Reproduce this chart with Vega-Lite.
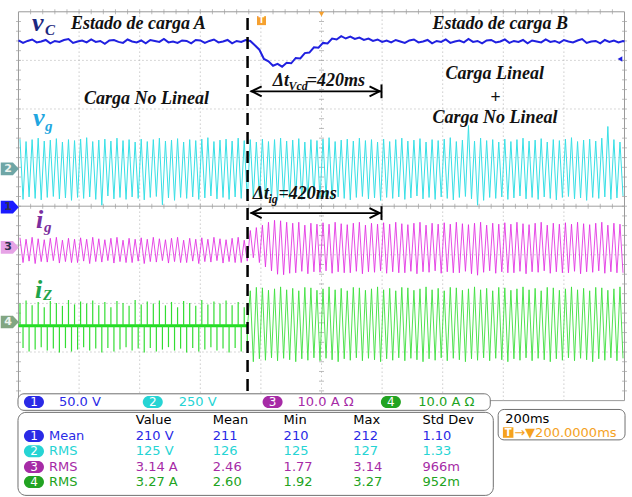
{
"$schema":"https://vega.github.io/schema/vega-lite/v6.json",
"width":632,"height":497,
"autosize":{"type":"fit","contains":"padding"},
"padding":0,
"background":"white",
"config":{"view":{"stroke":null},"axis":{"disable":true},"legend":{"disable":true}},
"datasets":{
"vc":[{"t":0,"v":3.41},{"t":15,"v":3.36},{"t":30,"v":3.40},{"t":45,"v":3.43},{"t":60,"v":3.37},{"t":75,"v":3.39},{"t":90,"v":3.42},{"t":105,"v":3.35},{"t":120,"v":3.40},{"t":135,"v":3.38},{"t":150,"v":3.42},{"t":165,"v":3.44},{"t":180,"v":3.36},{"t":195,"v":3.39},{"t":210,"v":3.41},{"t":225,"v":3.37},{"t":240,"v":3.43},{"t":255,"v":3.38},{"t":270,"v":3.40},{"t":285,"v":3.34},{"t":300,"v":3.41},{"t":315,"v":3.42},{"t":330,"v":3.38},{"t":345,"v":3.36},{"t":360,"v":3.43},{"t":375,"v":3.39},{"t":390,"v":3.37},{"t":405,"v":3.41},{"t":420,"v":3.35},{"t":435,"v":3.42},{"t":450,"v":3.40},{"t":465,"v":3.38},{"t":480,"v":3.44},{"t":495,"v":3.37},{"t":510,"v":3.39},{"t":525,"v":3.36},{"t":540,"v":3.41},{"t":555,"v":3.40},{"t":570,"v":3.35},{"t":585,"v":3.42},{"t":600,"v":3.41},{"t":615,"v":3.36},{"t":630,"v":3.40},{"t":645,"v":3.43},{"t":660,"v":3.37},{"t":675,"v":3.39},{"t":690,"v":3.42},{"t":705,"v":3.35},{"t":720,"v":3.40},{"t":735,"v":3.38},{"t":750,"v":3.42},{"t":765,"v":3.40},{"t":780,"v":3.31},{"t":795,"v":3.22},{"t":810,"v":3.03},{"t":825,"v":2.98},{"t":840,"v":2.89},{"t":855,"v":2.93},{"t":870,"v":2.87},{"t":885,"v":2.95},{"t":900,"v":2.94},{"t":915,"v":3.05},{"t":930,"v":3.04},{"t":945,"v":3.15},{"t":960,"v":3.16},{"t":975,"v":3.27},{"t":990,"v":3.26},{"t":1005,"v":3.36},{"t":1020,"v":3.35},{"t":1035,"v":3.45},{"t":1050,"v":3.43},{"t":1065,"v":3.50},{"t":1080,"v":3.45},{"t":1095,"v":3.49},{"t":1110,"v":3.44},{"t":1125,"v":3.47},{"t":1140,"v":3.42},{"t":1155,"v":3.45},{"t":1170,"v":3.40},{"t":1185,"v":3.43},{"t":1200,"v":3.38},{"t":1215,"v":3.41},{"t":1230,"v":3.37},{"t":1245,"v":3.42},{"t":1260,"v":3.39},{"t":1275,"v":3.36},{"t":1290,"v":3.41},{"t":1305,"v":3.43},{"t":1320,"v":3.37},{"t":1335,"v":3.39},{"t":1350,"v":3.42},{"t":1365,"v":3.35},{"t":1380,"v":3.40},{"t":1395,"v":3.38},{"t":1410,"v":3.43},{"t":1425,"v":3.36},{"t":1440,"v":3.39},{"t":1455,"v":3.41},{"t":1470,"v":3.37},{"t":1485,"v":3.44},{"t":1500,"v":3.38},{"t":1515,"v":3.40},{"t":1530,"v":3.35},{"t":1545,"v":3.41},{"t":1560,"v":3.42},{"t":1575,"v":3.37},{"t":1590,"v":3.39},{"t":1605,"v":3.43},{"t":1620,"v":3.36},{"t":1635,"v":3.40},{"t":1650,"v":3.38},{"t":1665,"v":3.42},{"t":1680,"v":3.35},{"t":1695,"v":3.41},{"t":1710,"v":3.39},{"t":1725,"v":3.37},{"t":1740,"v":3.43},{"t":1755,"v":3.38},{"t":1770,"v":3.40},{"t":1785,"v":3.36},{"t":1800,"v":3.42},{"t":1815,"v":3.39},{"t":1830,"v":3.37},{"t":1845,"v":3.41},{"t":1860,"v":3.44},{"t":1875,"v":3.36},{"t":1890,"v":3.39},{"t":1905,"v":3.40},{"t":1920,"v":3.35},{"t":1935,"v":3.42},{"t":1950,"v":3.38},{"t":1965,"v":3.41},{"t":1980,"v":3.37},{"t":1995,"v":3.40},{"t":2000,"v":3.39}],
"vg":[{"t":5,"v":1.38},{"t":15,"v":0.14},{"t":25,"v":1.33},{"t":35,"v":0.19},{"t":45,"v":1.37},{"t":55,"v":0.16},{"t":65,"v":1.40},{"t":75,"v":0.13},{"t":85,"v":1.34},{"t":95,"v":0.18},{"t":105,"v":1.36},{"t":115,"v":0.20},{"t":125,"v":1.39},{"t":135,"v":0.15},{"t":145,"v":1.32},{"t":155,"v":0.17},{"t":165,"v":1.37},{"t":175,"v":0.12},{"t":185,"v":1.35},{"t":195,"v":0.18},{"t":205,"v":1.38},{"t":215,"v":0.16},{"t":225,"v":1.41},{"t":235,"v":0.19},{"t":245,"v":1.33},{"t":255,"v":0.14},{"t":265,"v":1.36},{"t":275,"v":0.02},{"t":285,"v":1.38},{"t":295,"v":0.21},{"t":305,"v":1.34},{"t":315,"v":0.15},{"t":325,"v":1.40},{"t":335,"v":0.18},{"t":345,"v":1.35},{"t":355,"v":0.14},{"t":365,"v":1.37},{"t":375,"v":0.19},{"t":385,"v":1.32},{"t":395,"v":0.16},{"t":405,"v":1.38},{"t":415,"v":0.13},{"t":425,"v":1.33},{"t":435,"v":0.18},{"t":445,"v":1.37},{"t":455,"v":0.20},{"t":465,"v":1.40},{"t":475,"v":0.03},{"t":485,"v":1.34},{"t":495,"v":0.17},{"t":505,"v":1.36},{"t":515,"v":0.12},{"t":525,"v":1.39},{"t":535,"v":0.18},{"t":545,"v":1.32},{"t":555,"v":0.16},{"t":565,"v":1.37},{"t":575,"v":0.19},{"t":585,"v":1.35},{"t":595,"v":0.14},{"t":605,"v":1.38},{"t":615,"v":0.17},{"t":625,"v":1.41},{"t":635,"v":0.21},{"t":645,"v":1.33},{"t":655,"v":0.15},{"t":665,"v":1.36},{"t":675,"v":0.18},{"t":685,"v":1.38},{"t":695,"v":0.14},{"t":705,"v":1.34},{"t":715,"v":0.19},{"t":725,"v":1.40},{"t":735,"v":0.16},{"t":745,"v":1.35},{"t":755,"v":0.13},{"t":765,"v":1.37},{"t":775,"v":0.18},{"t":785,"v":1.32},{"t":795,"v":0.20},{"t":805,"v":1.38},{"t":815,"v":0.15},{"t":825,"v":1.33},{"t":835,"v":0.17},{"t":845,"v":1.37},{"t":855,"v":0.12},{"t":865,"v":1.40},{"t":875,"v":0.18},{"t":885,"v":1.34},{"t":895,"v":0.16},{"t":905,"v":1.36},{"t":915,"v":0.19},{"t":925,"v":1.39},{"t":935,"v":0.14},{"t":945,"v":1.32},{"t":955,"v":0.17},{"t":965,"v":1.37},{"t":975,"v":0.21},{"t":985,"v":1.35},{"t":995,"v":0.15},{"t":1005,"v":1.38},{"t":1015,"v":0.18},{"t":1025,"v":1.41},{"t":1035,"v":0.14},{"t":1045,"v":1.33},{"t":1055,"v":0.19},{"t":1065,"v":1.36},{"t":1075,"v":0.16},{"t":1085,"v":1.38},{"t":1095,"v":0.13},{"t":1105,"v":1.34},{"t":1115,"v":0.18},{"t":1125,"v":1.40},{"t":1135,"v":0.20},{"t":1145,"v":1.35},{"t":1155,"v":0.15},{"t":1165,"v":1.37},{"t":1175,"v":0.17},{"t":1185,"v":1.32},{"t":1195,"v":0.12},{"t":1205,"v":1.38},{"t":1215,"v":0.18},{"t":1225,"v":1.33},{"t":1235,"v":0.16},{"t":1245,"v":1.37},{"t":1255,"v":0.19},{"t":1265,"v":1.40},{"t":1275,"v":0.14},{"t":1285,"v":1.34},{"t":1295,"v":0.17},{"t":1305,"v":1.36},{"t":1315,"v":0.21},{"t":1325,"v":1.39},{"t":1335,"v":0.15},{"t":1345,"v":1.32},{"t":1355,"v":0.18},{"t":1365,"v":1.37},{"t":1375,"v":0.14},{"t":1385,"v":1.35},{"t":1395,"v":0.19},{"t":1405,"v":1.38},{"t":1415,"v":0.16},{"t":1425,"v":1.41},{"t":1435,"v":0.13},{"t":1445,"v":1.33},{"t":1455,"v":0.18},{"t":1465,"v":1.36},{"t":1475,"v":0.20},{"t":1485,"v":1.66},{"t":1495,"v":0.15},{"t":1505,"v":1.34},{"t":1515,"v":0.02},{"t":1525,"v":1.40},{"t":1535,"v":0.12},{"t":1545,"v":1.35},{"t":1555,"v":0.18},{"t":1565,"v":1.37},{"t":1575,"v":0.16},{"t":1585,"v":1.32},{"t":1595,"v":0.19},{"t":1605,"v":1.38},{"t":1615,"v":0.14},{"t":1625,"v":1.33},{"t":1635,"v":0.17},{"t":1645,"v":1.37},{"t":1655,"v":0.21},{"t":1665,"v":1.40},{"t":1675,"v":0.15},{"t":1685,"v":1.34},{"t":1695,"v":0.18},{"t":1705,"v":1.36},{"t":1715,"v":0.14},{"t":1725,"v":1.39},{"t":1735,"v":0.19},{"t":1745,"v":1.32},{"t":1755,"v":0.16},{"t":1765,"v":1.37},{"t":1775,"v":0.13},{"t":1785,"v":1.35},{"t":1795,"v":0.18},{"t":1805,"v":1.38},{"t":1815,"v":0.20},{"t":1825,"v":1.41},{"t":1835,"v":0.15},{"t":1845,"v":1.33},{"t":1855,"v":0.17},{"t":1865,"v":1.36},{"t":1875,"v":0.12},{"t":1885,"v":1.38},{"t":1895,"v":0.18},{"t":1905,"v":1.34},{"t":1915,"v":0.16},{"t":1925,"v":1.40},{"t":1935,"v":0.19},{"t":1945,"v":1.64},{"t":1955,"v":0.14},{"t":1965,"v":1.37},{"t":1975,"v":0.17},{"t":1985,"v":1.32},{"t":1995,"v":0.21}],
"ig":[{"t":5,"v":-0.65},{"t":15,"v":-1.16},{"t":25,"v":-0.68},{"t":35,"v":-1.13},{"t":45,"v":-0.64},{"t":55,"v":-1.18},{"t":65,"v":-0.67},{"t":75,"v":-1.14},{"t":85,"v":-0.69},{"t":95,"v":-1.15},{"t":105,"v":-0.66},{"t":115,"v":-1.12},{"t":125,"v":-0.64},{"t":135,"v":-1.17},{"t":145,"v":-0.70},{"t":155,"v":-1.14},{"t":165,"v":-0.66},{"t":175,"v":-1.16},{"t":185,"v":-0.68},{"t":195,"v":-1.16},{"t":205,"v":-0.65},{"t":215,"v":-1.13},{"t":225,"v":-0.68},{"t":235,"v":-1.18},{"t":245,"v":-0.64},{"t":255,"v":-1.14},{"t":265,"v":-0.67},{"t":275,"v":-1.15},{"t":285,"v":-0.69},{"t":295,"v":-1.12},{"t":305,"v":-0.66},{"t":315,"v":-1.17},{"t":325,"v":-0.64},{"t":335,"v":-1.14},{"t":345,"v":-0.70},{"t":355,"v":-1.16},{"t":365,"v":-0.66},{"t":375,"v":-1.16},{"t":385,"v":-0.68},{"t":395,"v":-1.13},{"t":405,"v":-0.65},{"t":415,"v":-1.18},{"t":425,"v":-0.68},{"t":435,"v":-1.14},{"t":445,"v":-0.64},{"t":455,"v":-1.15},{"t":465,"v":-0.67},{"t":475,"v":-1.12},{"t":485,"v":-0.69},{"t":495,"v":-1.17},{"t":505,"v":-0.66},{"t":515,"v":-1.14},{"t":525,"v":-0.64},{"t":535,"v":-1.16},{"t":545,"v":-0.70},{"t":555,"v":-1.16},{"t":565,"v":-0.66},{"t":575,"v":-1.13},{"t":585,"v":-0.68},{"t":595,"v":-1.18},{"t":605,"v":-0.65},{"t":615,"v":-1.14},{"t":625,"v":-0.68},{"t":635,"v":-1.15},{"t":645,"v":-0.64},{"t":655,"v":-1.12},{"t":665,"v":-0.67},{"t":675,"v":-1.17},{"t":685,"v":-0.69},{"t":695,"v":-1.14},{"t":705,"v":-0.66},{"t":715,"v":-1.16},{"t":725,"v":-0.64},{"t":735,"v":-1.16},{"t":745,"v":-0.70},{"t":755,"v":-1.13},{"t":765,"v":-0.50},{"t":775,"v":-1.06},{"t":785,"v":-0.44},{"t":795,"v":-1.16},{"t":805,"v":-0.39},{"t":815,"v":-1.25},{"t":825,"v":-0.33},{"t":835,"v":-1.33},{"t":845,"v":-0.29},{"t":855,"v":-1.40},{"t":865,"v":-0.30},{"t":875,"v":-1.41},{"t":885,"v":-0.33},{"t":895,"v":-1.38},{"t":905,"v":-0.35},{"t":915,"v":-1.37},{"t":925,"v":-0.33},{"t":935,"v":-1.34},{"t":945,"v":-0.39},{"t":955,"v":-1.39},{"t":965,"v":-0.35},{"t":975,"v":-1.35},{"t":985,"v":-0.37},{"t":995,"v":-1.36},{"t":1005,"v":-0.34},{"t":1015,"v":-1.33},{"t":1025,"v":-0.37},{"t":1035,"v":-1.38},{"t":1045,"v":-0.33},{"t":1055,"v":-1.35},{"t":1065,"v":-0.36},{"t":1075,"v":-1.37},{"t":1085,"v":-0.38},{"t":1095,"v":-1.37},{"t":1105,"v":-0.35},{"t":1115,"v":-1.34},{"t":1125,"v":-0.33},{"t":1135,"v":-1.39},{"t":1145,"v":-0.39},{"t":1155,"v":-1.35},{"t":1165,"v":-0.35},{"t":1175,"v":-1.36},{"t":1185,"v":-0.37},{"t":1195,"v":-1.33},{"t":1205,"v":-0.34},{"t":1215,"v":-1.38},{"t":1225,"v":-0.37},{"t":1235,"v":-1.35},{"t":1245,"v":-0.33},{"t":1255,"v":-1.37},{"t":1265,"v":-0.36},{"t":1275,"v":-1.37},{"t":1285,"v":-0.38},{"t":1295,"v":-1.34},{"t":1305,"v":-0.35},{"t":1315,"v":-1.39},{"t":1325,"v":-0.33},{"t":1335,"v":-1.35},{"t":1345,"v":-0.39},{"t":1355,"v":-1.36},{"t":1365,"v":-0.35},{"t":1375,"v":-1.33},{"t":1385,"v":-0.37},{"t":1395,"v":-1.38},{"t":1405,"v":-0.34},{"t":1415,"v":-1.35},{"t":1425,"v":-0.37},{"t":1435,"v":-1.37},{"t":1445,"v":-0.33},{"t":1455,"v":-1.37},{"t":1465,"v":-0.36},{"t":1475,"v":-1.34},{"t":1485,"v":-0.38},{"t":1495,"v":-1.39},{"t":1505,"v":-0.35},{"t":1515,"v":-1.42},{"t":1525,"v":-0.33},{"t":1535,"v":-1.36},{"t":1545,"v":-0.39},{"t":1555,"v":-1.33},{"t":1565,"v":-0.35},{"t":1575,"v":-1.38},{"t":1585,"v":-0.37},{"t":1595,"v":-1.35},{"t":1605,"v":-0.34},{"t":1615,"v":-1.37},{"t":1625,"v":-0.37},{"t":1635,"v":-1.37},{"t":1645,"v":-0.33},{"t":1655,"v":-1.34},{"t":1665,"v":-0.36},{"t":1675,"v":-1.39},{"t":1685,"v":-0.38},{"t":1695,"v":-1.35},{"t":1705,"v":-0.35},{"t":1715,"v":-1.36},{"t":1725,"v":-0.33},{"t":1735,"v":-1.33},{"t":1745,"v":-0.39},{"t":1755,"v":-1.38},{"t":1765,"v":-0.35},{"t":1775,"v":-1.35},{"t":1785,"v":-0.37},{"t":1795,"v":-1.37},{"t":1805,"v":-0.34},{"t":1815,"v":-1.37},{"t":1825,"v":-0.37},{"t":1835,"v":-1.34},{"t":1845,"v":-0.33},{"t":1855,"v":-1.39},{"t":1865,"v":-0.36},{"t":1875,"v":-1.35},{"t":1885,"v":-0.38},{"t":1895,"v":-1.36},{"t":1905,"v":-0.35},{"t":1915,"v":-1.33},{"t":1925,"v":-0.33},{"t":1935,"v":-1.38},{"t":1945,"v":-0.39},{"t":1955,"v":-1.35},{"t":1965,"v":-0.35},{"t":1975,"v":-1.37},{"t":1985,"v":-0.37},{"t":1995,"v":-1.37}],
"izs":[{"t":5,"v":-2.00},{"t":15,"v":-2.92},{"t":25,"v":-1.94},{"t":35,"v":-2.99},{"t":45,"v":-2.04},{"t":55,"v":-2.95},{"t":65,"v":-1.97},{"t":75,"v":-2.90},{"t":85,"v":-2.08},{"t":95,"v":-2.97},{"t":105,"v":-1.95},{"t":115,"v":-2.93},{"t":125,"v":-1.99},{"t":135,"v":-3.01},{"t":145,"v":-2.05},{"t":155,"v":-2.92},{"t":165,"v":-1.93},{"t":175,"v":-2.99},{"t":185,"v":-2.02},{"t":195,"v":-2.95},{"t":205,"v":-1.96},{"t":215,"v":-2.90},{"t":225,"v":-2.00},{"t":235,"v":-2.97},{"t":245,"v":-1.94},{"t":255,"v":-2.93},{"t":265,"v":-2.04},{"t":275,"v":-3.01},{"t":285,"v":-1.97},{"t":295,"v":-2.92},{"t":305,"v":-2.08},{"t":315,"v":-2.99},{"t":325,"v":-1.95},{"t":335,"v":-2.95},{"t":345,"v":-1.99},{"t":355,"v":-2.90},{"t":365,"v":-2.05},{"t":375,"v":-2.97},{"t":385,"v":-1.93},{"t":395,"v":-2.93},{"t":405,"v":-2.02},{"t":415,"v":-3.01},{"t":425,"v":-1.96},{"t":435,"v":-2.92},{"t":445,"v":-2.00},{"t":455,"v":-2.99},{"t":465,"v":-1.94},{"t":475,"v":-2.95},{"t":485,"v":-2.04},{"t":495,"v":-2.90},{"t":505,"v":-1.97},{"t":515,"v":-2.97},{"t":525,"v":-2.08},{"t":535,"v":-2.93},{"t":545,"v":-1.95},{"t":555,"v":-3.01},{"t":565,"v":-1.99},{"t":575,"v":-2.92},{"t":585,"v":-2.05},{"t":595,"v":-2.99},{"t":605,"v":-1.93},{"t":615,"v":-2.95},{"t":625,"v":-2.02},{"t":635,"v":-2.90},{"t":645,"v":-1.96},{"t":655,"v":-2.97},{"t":665,"v":-2.00},{"t":675,"v":-2.93},{"t":685,"v":-1.94},{"t":695,"v":-3.01},{"t":705,"v":-2.04},{"t":715,"v":-2.92},{"t":725,"v":-1.97},{"t":735,"v":-2.99},{"t":745,"v":-2.08},{"t":755,"v":-2.95}],
"iza":[{"t":756,"v":-2.46},{"t":765,"v":-1.74},{"t":775,"v":-3.20},{"t":785,"v":-1.67},{"t":795,"v":-3.14},{"t":805,"v":-1.68},{"t":815,"v":-3.17},{"t":825,"v":-1.73},{"t":835,"v":-3.12},{"t":845,"v":-1.70},{"t":855,"v":-3.18},{"t":865,"v":-1.66},{"t":875,"v":-3.13},{"t":885,"v":-1.72},{"t":895,"v":-3.16},{"t":905,"v":-1.69},{"t":915,"v":-3.20},{"t":925,"v":-1.74},{"t":935,"v":-3.14},{"t":945,"v":-1.67},{"t":955,"v":-3.17},{"t":965,"v":-1.68},{"t":975,"v":-3.12},{"t":985,"v":-1.73},{"t":995,"v":-3.18},{"t":1005,"v":-1.70},{"t":1015,"v":-3.13},{"t":1025,"v":-1.66},{"t":1035,"v":-3.16},{"t":1045,"v":-1.72},{"t":1055,"v":-3.20},{"t":1065,"v":-1.69},{"t":1075,"v":-3.14},{"t":1085,"v":-1.74},{"t":1095,"v":-3.17},{"t":1105,"v":-1.67},{"t":1115,"v":-3.12},{"t":1125,"v":-1.68},{"t":1135,"v":-3.18},{"t":1145,"v":-1.73},{"t":1155,"v":-3.13},{"t":1165,"v":-1.70},{"t":1175,"v":-3.16},{"t":1185,"v":-1.66},{"t":1195,"v":-3.20},{"t":1205,"v":-1.72},{"t":1215,"v":-3.14},{"t":1225,"v":-1.69},{"t":1235,"v":-3.17},{"t":1245,"v":-1.74},{"t":1255,"v":-3.12},{"t":1265,"v":-1.67},{"t":1275,"v":-3.18},{"t":1285,"v":-1.68},{"t":1295,"v":-3.13},{"t":1305,"v":-1.73},{"t":1315,"v":-3.16},{"t":1325,"v":-1.70},{"t":1335,"v":-3.20},{"t":1345,"v":-1.66},{"t":1355,"v":-3.14},{"t":1365,"v":-1.72},{"t":1375,"v":-3.17},{"t":1385,"v":-1.69},{"t":1395,"v":-3.12},{"t":1405,"v":-1.74},{"t":1415,"v":-3.18},{"t":1425,"v":-1.67},{"t":1435,"v":-3.13},{"t":1445,"v":-1.68},{"t":1455,"v":-3.16},{"t":1465,"v":-1.73},{"t":1475,"v":-3.20},{"t":1485,"v":-1.70},{"t":1495,"v":-3.14},{"t":1505,"v":-1.66},{"t":1515,"v":-3.17},{"t":1525,"v":-1.72},{"t":1535,"v":-3.12},{"t":1545,"v":-1.69},{"t":1555,"v":-3.18},{"t":1565,"v":-1.74},{"t":1575,"v":-3.13},{"t":1585,"v":-1.67},{"t":1595,"v":-3.16},{"t":1605,"v":-1.68},{"t":1615,"v":-3.20},{"t":1625,"v":-1.73},{"t":1635,"v":-3.14},{"t":1645,"v":-1.70},{"t":1655,"v":-3.17},{"t":1665,"v":-1.66},{"t":1675,"v":-3.12},{"t":1685,"v":-1.72},{"t":1695,"v":-3.18},{"t":1705,"v":-1.69},{"t":1715,"v":-3.13},{"t":1725,"v":-1.74},{"t":1735,"v":-3.16},{"t":1745,"v":-1.67},{"t":1755,"v":-3.20},{"t":1765,"v":-1.68},{"t":1775,"v":-3.14},{"t":1785,"v":-1.73},{"t":1795,"v":-3.17},{"t":1805,"v":-1.70},{"t":1815,"v":-3.12},{"t":1825,"v":-1.66},{"t":1835,"v":-3.18},{"t":1845,"v":-1.72},{"t":1855,"v":-3.13},{"t":1865,"v":-1.69},{"t":1875,"v":-3.16},{"t":1885,"v":-1.74},{"t":1895,"v":-3.20},{"t":1905,"v":-1.67},{"t":1915,"v":-3.14},{"t":1925,"v":-1.68},{"t":1935,"v":-3.17},{"t":1945,"v":-1.73},{"t":1955,"v":-3.12},{"t":1965,"v":-1.70},{"t":1975,"v":-3.18},{"t":1985,"v":-1.66},{"t":1995,"v":-3.13}],
"xs":[{"p":40},{"p":80},{"p":120},{"p":160},{"p":200},{"p":240},{"p":280},{"p":320},{"p":360},{"p":400},{"p":440},{"p":480},{"p":520},{"p":560},{"p":600},{"p":640},{"p":680},{"p":720},{"p":760},{"p":800},{"p":840},{"p":880},{"p":920},{"p":960},{"p":1000},{"p":1040},{"p":1080},{"p":1120},{"p":1160},{"p":1200},{"p":1240},{"p":1280},{"p":1320},{"p":1360},{"p":1400},{"p":1440},{"p":1480},{"p":1520},{"p":1560},{"p":1600},{"p":1640},{"p":1680},{"p":1720},{"p":1760},{"p":1800},{"p":1840},{"p":1880},{"p":1920},{"p":1960}],
"ys":[{"p":-3.8},{"p":-3.6},{"p":-3.4},{"p":-3.2},{"p":-3.0},{"p":-2.8},{"p":-2.6},{"p":-2.4},{"p":-2.2},{"p":-2.0},{"p":-1.8},{"p":-1.6},{"p":-1.4},{"p":-1.2},{"p":-1.0},{"p":-0.8},{"p":-0.6},{"p":-0.4},{"p":-0.2},{"p":0},{"p":0.2},{"p":0.4},{"p":0.6},{"p":0.8},{"p":1.0},{"p":1.2},{"p":1.4},{"p":1.6},{"p":1.8},{"p":2.0},{"p":2.2},{"p":2.4},{"p":2.6},{"p":2.8},{"p":3.0},{"p":3.2},{"p":3.4},{"p":3.6},{"p":3.8}],
"badges":[{"ch":"2","d":0.768},{"ch":"1","d":-0.02},{"ch":"3","d":-0.848},{"ch":"4","d":-2.384}],
"pills":[{"ch":"1","t":51.1,"d":-4.03,"n":"1"},{"ch":"2","t":443.2,"d":-4.03,"n":"2"},{"ch":"3","t":838.6,"d":-4.03,"n":"3"},{"ch":"4","t":1229,"d":-4.03,"n":"4"},{"ch":"1","t":51.1,"d":-4.727,"n":"1"},{"ch":"2","t":51.1,"d":-5.04,"n":"2"},{"ch":"3","t":51.1,"d":-5.364,"n":"3"},{"ch":"4","t":51.1,"d":-5.677,"n":"4"}],
"cells":[{"ch":"1","t":133.4,"d":-4.03,"s":"50.0 V"},{"ch":"2","t":528.8,"d":-4.03,"s":"250 V"},{"ch":"3","t":921,"d":-4.03,"s":"10.0 A Ω"},{"ch":"4","t":1319.6,"d":-4.03,"s":"10.0 A Ω"},
{"ch":"k","t":387,"d":-4.404,"s":"Value"},{"ch":"k","t":641,"d":-4.404,"s":"Mean"},{"ch":"k","t":875,"d":-4.404,"s":"Min"},{"ch":"k","t":1105,"d":-4.404,"s":"Max"},{"ch":"k","t":1333,"d":-4.404,"s":"Std Dev"},
{"ch":"1","t":100.5,"d":-4.727,"s":"Mean"},{"ch":"1","t":387,"d":-4.727,"s":"210 V"},{"ch":"1","t":641,"d":-4.727,"s":"211"},{"ch":"1","t":875,"d":-4.727,"s":"210"},{"ch":"1","t":1105,"d":-4.727,"s":"212"},{"ch":"1","t":1333,"d":-4.727,"s":"1.10"},
{"ch":"2","t":100.5,"d":-5.04,"s":"RMS"},{"ch":"2","t":387,"d":-5.04,"s":"125 V"},{"ch":"2","t":641,"d":-5.04,"s":"126"},{"ch":"2","t":875,"d":-5.04,"s":"125"},{"ch":"2","t":1105,"d":-5.04,"s":"127"},{"ch":"2","t":1333,"d":-5.04,"s":"1.33"},
{"ch":"3","t":100.5,"d":-5.364,"s":"RMS"},{"ch":"3","t":387,"d":-5.364,"s":"3.14 A"},{"ch":"3","t":641,"d":-5.364,"s":"2.46"},{"ch":"3","t":875,"d":-5.364,"s":"1.77"},{"ch":"3","t":1105,"d":-5.364,"s":"3.14"},{"ch":"3","t":1333,"d":-5.364,"s":"966m"},
{"ch":"4","t":100.5,"d":-5.677,"s":"RMS"},{"ch":"4","t":387,"d":-5.677,"s":"3.27 A"},{"ch":"4","t":641,"d":-5.677,"s":"2.60"},{"ch":"4","t":875,"d":-5.677,"s":"1.92"},{"ch":"4","t":1105,"d":-5.677,"s":"3.27"},{"ch":"4","t":1333,"d":-5.677,"s":"952m"},
{"ch":"k","t":1606,"d":-4.374,"s":"200ms"},{"ch":"o","t":1636,"d":-4.657,"s":"→▼200.0000ms"}]
},
"layer":[
{"data":{"values":[{}]},"mark":{"type":"rect","fill":"transparent","stroke":"#9a9a9a","strokeWidth":1},
 "encoding":{"x":{"datum":0,"type":"quantitative","scale":{"domain":[-57.7,2024.7],"nice":false,"zero":false},"axis":null},
  "x2":{"datum":2000},
  "y":{"datum":-4,"type":"quantitative","scale":{"domain":[-5.798,4.2424],"nice":false,"zero":false},"axis":null},
  "y2":{"datum":4}}},
{"data":{"values":[{"p":200},{"p":400},{"p":600},{"p":800},{"p":1000},{"p":1200},{"p":1400},{"p":1600},{"p":1800}]},
 "mark":{"type":"rule","color":"#b0b0b0","strokeDash":[1,3],"strokeWidth":1},
 "encoding":{"x":{"field":"p","type":"quantitative"},"y":{"datum":-4,"type":"quantitative"},"y2":{"datum":4}}},
{"data":{"values":[{"p":-3},{"p":-2},{"p":-1},{"p":1},{"p":2},{"p":3}]},
 "mark":{"type":"rule","color":"#b0b0b0","strokeDash":[1,3],"strokeWidth":1},
 "encoding":{"y":{"field":"p","type":"quantitative"},"x":{"datum":0,"type":"quantitative"},"x2":{"datum":2000}}},
{"data":{"values":[{}]},"mark":{"type":"rule","color":"#a0a0a0","strokeWidth":1},
 "encoding":{"y":{"datum":0,"type":"quantitative"},"x":{"datum":0,"type":"quantitative"},"x2":{"datum":2000}}},
{"data":{"name":"xs"},"mark":{"type":"tick","orient":"vertical","size":5,"thickness":1,"color":"#a0a0a0"},
 "encoding":{"x":{"field":"p","type":"quantitative"},"y":{"datum":0,"type":"quantitative"}}},
{"data":{"name":"xs"},"mark":{"type":"tick","orient":"vertical","size":5,"thickness":1,"color":"#a0a0a0"},
 "encoding":{"x":{"field":"p","type":"quantitative"},"y":{"datum":4,"type":"quantitative"}}},
{"data":{"name":"ys"},"mark":{"type":"tick","orient":"horizontal","size":5,"thickness":1,"color":"#a0a0a0"},
 "encoding":{"y":{"field":"p","type":"quantitative"},"x":{"datum":1000,"type":"quantitative"}}},
{"data":{"name":"ys"},"mark":{"type":"tick","orient":"horizontal","size":5,"thickness":1,"color":"#a0a0a0"},
 "encoding":{"y":{"field":"p","type":"quantitative"},"x":{"datum":0,"type":"quantitative"}}},
{"data":{"name":"ys"},"mark":{"type":"tick","orient":"horizontal","size":5,"thickness":1,"color":"#a0a0a0"},
 "encoding":{"y":{"field":"p","type":"quantitative"},"x":{"datum":2000,"type":"quantitative"}}},
{"data":{"name":"vg"},"mark":{"type":"line","color":"#38e0e6","strokeWidth":1},
 "encoding":{"x":{"field":"t","type":"quantitative"},"y":{"field":"v","type":"quantitative"}}},
{"data":{"name":"ig"},"mark":{"type":"line","color":"#e22ee2","strokeWidth":1,"opacity":0.85},
 "encoding":{"x":{"field":"t","type":"quantitative"},"y":{"field":"v","type":"quantitative"}}},
{"data":{"values":[{}]},"mark":{"type":"rule","color":"#22dd22","strokeWidth":3},
 "encoding":{"y":{"datum":-2.46,"type":"quantitative"},"x":{"datum":0,"type":"quantitative"},"x2":{"datum":756}}},
{"data":{"name":"izs"},"mark":{"type":"rule","color":"#33dd33","strokeWidth":1.2},
 "encoding":{"x":{"field":"t","type":"quantitative"},"y":{"field":"v","type":"quantitative"},"y2":{"datum":-2.46}}},
{"data":{"name":"iza"},"mark":{"type":"line","color":"#3ee03e","strokeWidth":1,"opacity":0.9},
 "encoding":{"x":{"field":"t","type":"quantitative"},"y":{"field":"v","type":"quantitative"}}},
{"data":{"name":"vc"},"mark":{"type":"line","color":"#2020e0","strokeWidth":2},
 "encoding":{"x":{"field":"t","type":"quantitative"},"y":{"field":"v","type":"quantitative"}}},
{"data":{"values":[{}]},"mark":{"type":"rule","color":"#000000","strokeWidth":2.5,"strokeDash":[12,7]},
 "encoding":{"x":{"datum":756,"type":"quantitative"},"y":{"datum":-3.8,"type":"quantitative"},"y2":{"datum":4}}},
{"data":{"values":[{"d":2.364},{"d":-0.141}]},"mark":{"type":"rule","color":"#000000","strokeWidth":1.8},
 "encoding":{"y":{"field":"d","type":"quantitative"},"x":{"datum":766,"type":"quantitative"},"x2":{"datum":1197}}},
{"data":{"values":[{"d1":2.505,"d2":2.222},{"d1":0,"d2":-0.283}]},"mark":{"type":"rule","color":"#000000","strokeWidth":2},
 "encoding":{"x":{"datum":1198,"type":"quantitative"},"y":{"field":"d1","type":"quantitative"},"y2":{"field":"d2"}}},
{"data":{"values":[{"d":2.364},{"d":-0.141}]},"mark":{"type":"point","shape":"M1,-1L-1,0L1,1","size":100,"filled":false,"stroke":"#000000","strokeWidth":2,"opacity":1},
 "encoding":{"y":{"field":"d","type":"quantitative"},"x":{"datum":786,"type":"quantitative"}}},
{"data":{"values":[{"d":2.364},{"d":-0.141}]},"mark":{"type":"point","shape":"M-1,-1L1,0L-1,1","size":100,"filled":false,"stroke":"#000000","strokeWidth":2,"opacity":1},
 "encoding":{"y":{"field":"d","type":"quantitative"},"x":{"datum":1175,"type":"quantitative"}}},
{"data":{"values":[{}]},"mark":{"type":"point","shape":"square","size":81,"filled":true,"color":"#f5a030","opacity":1},
 "encoding":{"x":{"datum":802,"type":"quantitative"},"y":{"datum":3.818,"type":"quantitative"}}},
{"data":{"values":[{}]},"mark":{"type":"text","text":"T","font":"DejaVu Sans","fontWeight":"bold","fontSize":8,"color":"white","align":"center","baseline":"middle"},
 "encoding":{"x":{"datum":802,"type":"quantitative"},"y":{"datum":3.818,"type":"quantitative"}}},
{"data":{"values":[{}]},"mark":{"type":"point","shape":"triangle-down","size":30,"filled":true,"color":"#f5a030","opacity":1},
 "encoding":{"x":{"datum":1000,"type":"quantitative"},"y":{"datum":3.95,"type":"quantitative"}}},
{"data":{"values":[{}]},"mark":{"type":"point","shape":"triangle-left","size":30,"filled":true,"color":"#2020e0","opacity":1},
 "encoding":{"x":{"datum":1985,"type":"quantitative"},"y":{"datum":3.03,"type":"quantitative"}}},
{"data":{"values":[{"t":173,"d":3.636,"s":"Estado de carga A"},{"t":1366,"d":3.636,"s":"Estado de carga B"},{"t":216,"d":2.101,"s":"Carga No Lineal"},{"t":1409,"d":2.626,"s":"Carga Lineal"},{"t":1557,"d":2.131,"s":"+"},{"t":1366,"d":1.717,"s":"Carga No Lineal"},{"t":839,"d":2.465,"s":"Δt"},{"t":951,"d":2.465,"s":"=420ms"},{"t":773,"d":0.141,"s":"Δt"},{"t":858,"d":0.141,"s":"=420ms"}]},
 "mark":{"type":"text","font":"Liberation Serif","fontStyle":"italic","fontWeight":"bold","fontSize":18,"color":"#111111","align":"left","baseline":"alphabetic"},
 "encoding":{"x":{"field":"t","type":"quantitative"},"y":{"field":"d","type":"quantitative"},"text":{"field":"s"}}},
{"data":{"values":[{"t":891,"d":2.384,"s":"Vcd"},{"t":825,"d":0.061,"s":"ig"}]},
 "mark":{"type":"text","font":"Liberation Serif","fontStyle":"italic","fontWeight":"bold","fontSize":12,"color":"#111111","align":"left","baseline":"alphabetic"},
 "encoding":{"x":{"field":"t","type":"quantitative"},"y":{"field":"d","type":"quantitative"},"text":{"field":"s"}}},
{"data":{"values":[{"ch":"vC","t":44.5,"d":3.596,"s":"v"},{"ch":"vg","t":47.8,"d":1.657,"s":"v"},{"ch":"ig","t":57.7,"d":-0.444,"s":"i"},{"ch":"iZ","t":54.4,"d":-1.879,"s":"i"}]},
 "mark":{"type":"text","font":"Liberation Serif","fontStyle":"italic","fontWeight":"bold","fontSize":26,"align":"left","baseline":"alphabetic"},
 "encoding":{"x":{"field":"t","type":"quantitative"},"y":{"field":"d","type":"quantitative"},"text":{"field":"s"},
  "color":{"field":"ch","type":"nominal","legend":null,"scale":{"domain":["1","2","3","4","k","o","vC","vg","ig","iZ"],"range":["#2a2ae6","#26d4d4","#a62ba6","#22a322","#000000","#f5a21e","#1c2880","#22a6e0","#7b2e9e","#1fa44a"]}}}},
{"data":{"values":[{"ch":"vC","t":87.3,"d":3.515,"s":"C"},{"ch":"vg","t":87.3,"d":1.556,"s":"g"},{"ch":"ig","t":84,"d":-0.525,"s":"g"},{"ch":"iZ","t":80.7,"d":-1.939,"s":"Z"}]},
 "mark":{"type":"text","font":"Liberation Serif","fontStyle":"italic","fontWeight":"bold","fontSize":15,"align":"left","baseline":"alphabetic"},
 "encoding":{"x":{"field":"t","type":"quantitative"},"y":{"field":"d","type":"quantitative"},"text":{"field":"s"},
  "color":{"field":"ch","type":"nominal","legend":null,"scale":{"domain":["1","2","3","4","k","o","vC","vg","ig","iZ"],"range":["#2a2ae6","#26d4d4","#a62ba6","#22a322","#000000","#f5a21e","#1c2880","#22a6e0","#7b2e9e","#1fa44a"]}}}},
{"data":{"name":"badges"},"mark":{"type":"point","shape":"M-1,-0.7L0.35,-0.7L1,0L0.35,0.7L-1,0.7Z","size":324,"filled":true,"opacity":1},
 "encoding":{"x":{"datum":-28.8,"type":"quantitative"},"y":{"field":"d","type":"quantitative"},
  "fill":{"field":"ch","type":"nominal","legend":null,"scale":{"domain":["1","2","3","4"],"range":["#1a1aff","#6fa6a6","#e6a3e6","#82a682"]}}}},
{"data":{"name":"badges"},"transform":[{"filter":"datum.ch == '2' || datum.ch == '4'"}],
 "mark":{"type":"text","font":"DejaVu Sans","fontWeight":"bold","fontSize":11,"color":"#eef4ee","align":"center","baseline":"middle"},
 "encoding":{"x":{"datum":-34,"type":"quantitative"},"y":{"field":"d","type":"quantitative"},"text":{"field":"ch"}}},
{"data":{"name":"badges"},"transform":[{"filter":"datum.ch == '1' || datum.ch == '3'"}],
 "mark":{"type":"text","font":"DejaVu Sans","fontWeight":"bold","fontSize":11,"color":"#303050","align":"center","baseline":"middle"},
 "encoding":{"x":{"datum":-34,"type":"quantitative"},"y":{"field":"d","type":"quantitative"},"text":{"field":"ch"}}},
{"data":{"values":[{}]},"mark":{"type":"rect","fill":"white","stroke":"#707070","strokeWidth":1,"cornerRadius":6},
 "encoding":{"x":{"datum":-1.6,"type":"quantitative"},"x2":{"datum":1557},"y":{"datum":-3.86,"type":"quantitative"},"y2":{"datum":-4.2}}},
{"data":{"values":[{}]},"mark":{"type":"rect","fill":"white","stroke":"#707070","strokeWidth":1,"cornerRadius":8},
 "encoding":{"x":{"datum":-1.6,"type":"quantitative"},"x2":{"datum":1567},"y":{"datum":-4.242,"type":"quantitative"},"y2":{"datum":-5.95}}},
{"data":{"values":[{}]},"mark":{"type":"rect","fill":"white","stroke":"#707070","strokeWidth":1,"cornerRadius":6},
 "encoding":{"x":{"datum":1583,"type":"quantitative"},"x2":{"datum":2001.7},"y":{"datum":-4.182,"type":"quantitative"},"y2":{"datum":-4.808}}},
{"data":{"name":"pills"},"mark":{"type":"point","shape":"M-0.4,-0.6L0.4,-0.6A0.6,0.6 0 0 1 0.4,0.6L-0.4,0.6A0.6,0.6 0 0 1 -0.4,-0.6Z","size":400,"filled":true,"opacity":1},
 "encoding":{"x":{"field":"t","type":"quantitative"},"y":{"field":"d","type":"quantitative"},
  "color":{"field":"ch","type":"nominal","legend":null,"scale":{"domain":["1","2","3","4","k","o","vC","vg","ig","iZ"],"range":["#2a2ae6","#26d4d4","#a62ba6","#22a322","#000000","#f5a21e","#1c2880","#22a6e0","#7b2e9e","#1fa44a"]}}}},
{"data":{"name":"pills"},"mark":{"type":"text","font":"DejaVu Sans","fontSize":12,"color":"white","align":"center","baseline":"middle"},
 "encoding":{"x":{"field":"t","type":"quantitative"},"y":{"field":"d","type":"quantitative"},"text":{"field":"n"}}},
{"data":{"values":[{}]},"mark":{"type":"point","shape":"square","size":110,"filled":true,"color":"#f5a21e","opacity":1},
 "encoding":{"x":{"datum":1616,"type":"quantitative"},"y":{"datum":-4.657,"type":"quantitative"}}},
{"data":{"values":[{}]},"mark":{"type":"text","text":"T","font":"DejaVu Sans","fontWeight":"bold","fontSize":10,"color":"white","align":"center","baseline":"middle"},
 "encoding":{"x":{"datum":1616,"type":"quantitative"},"y":{"datum":-4.657,"type":"quantitative"}}},
{"data":{"name":"cells"},"mark":{"type":"text","font":"DejaVu Sans","fontSize":13,"align":"left","baseline":"middle"},
 "encoding":{"x":{"field":"t","type":"quantitative"},"y":{"field":"d","type":"quantitative"},"text":{"field":"s"},
  "color":{"field":"ch","type":"nominal","legend":null,"scale":{"domain":["1","2","3","4","k","o","vC","vg","ig","iZ"],"range":["#2a2ae6","#26d4d4","#a62ba6","#22a322","#000000","#f5a21e","#1c2880","#22a6e0","#7b2e9e","#1fa44a"]}}}}
]
}
